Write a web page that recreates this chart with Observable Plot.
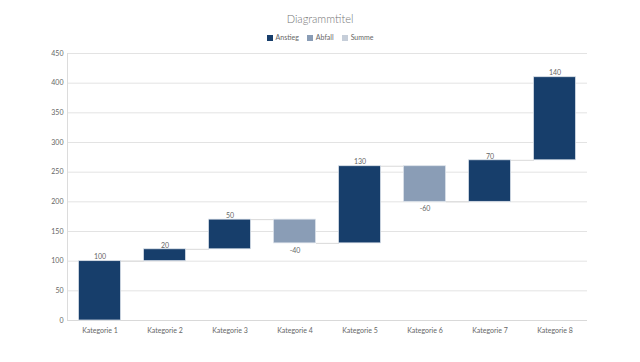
<!DOCTYPE html>
<html><head><meta charset="utf-8">
<script src="https://cdn.jsdelivr.net/npm/d3@7"></script>
<script src="https://cdn.jsdelivr.net/npm/@observablehq/plot@0.6"></script>
<style>
body{margin:0;background:#fff;font-family:Lato,"Open Sans",sans-serif;}
#wrap{width:640px;height:362px;position:relative;}
#title{position:absolute;top:10px;left:0;width:640px;text-align:center;font-size:11px;font-weight:300;color:#757575;line-height:18px;}
#legend{position:absolute;top:30px;left:0;width:640px;display:flex;justify-content:center;gap:8px;font-size:7px;color:#666;line-height:14px;}
#legend span.sw{display:inline-block;width:6px;height:6px;margin-right:3px;vertical-align:-0.5px;}
#chart{position:absolute;top:44px;left:0;}
</style></head>
<body><div id="wrap"><div id="title">Diagrammtitel</div><div id="legend"></div><div id="chart"></div></div>
<script>
const categories = ["Kategorie 1","Kategorie 2","Kategorie 3","Kategorie 4","Kategorie 5","Kategorie 6","Kategorie 7","Kategorie 8"];
const changes = [100, 20, 50, -40, 130, -60, 70, 140];
const seriesNames = ["Anstieg","Abfall","Summe"];
const seriesColors = ["#173e6b","#8a9db6","#c6ced9"];
const yTicks = [0,50,100,150,200,250,300,350,400,450];

const half = 0.323;
let run = 0;
const rows = categories.map((c, i) => {
  const start = run; run += changes[i];
  return {idx: i + 1, cat: c, start, end: run, change: changes[i], type: changes[i] >= 0 ? "Anstieg" : "Abfall"};
});
const links = rows.slice(0, -1).map((r, i) => ({x1: r.idx + half, x2: rows[i + 1].idx - half, y: r.end}));

const leg = document.getElementById("legend");
seriesNames.forEach((n, i) => {
  const d = document.createElement("div");
  d.innerHTML = `<span class="sw" style="background:${seriesColors[i]}"></span>${n}`;
  leg.appendChild(d);
});

const chart = Plot.plot({
  width: 640, height: 318,
  marginLeft: 67, marginRight: 53, marginTop: 9, marginBottom: 42,
  style: {fontFamily: 'Lato,"Open Sans",sans-serif', fontSize: "7px", color: "#666"},
  x: {type: "linear", domain: [0.5, categories.length + 0.5], axis: null},
  y: {domain: [0, 450], axis: null},
  color: {domain: seriesNames, range: seriesColors},
  marks: [
    Plot.ruleY(yTicks, {stroke: "#e3e3e3", strokeWidth: 1}),
    Plot.ruleX([0.5], {stroke: "#dcdcdc"}),
    Plot.ruleY([0], {stroke: "#d9d9d9"}),
    Plot.axisY({ticks: yTicks, tickSize: 0, tickPadding: 4, fill: "#666", fontSize: 7}),
    Plot.text(rows, {x: "idx", y: 0, text: "cat", dy: 10, fill: "#666", fontSize: 7}),
    Plot.link(links, {x1: "x1", x2: "x2", y1: "y", y2: "y", stroke: "#d9d9d9", strokeWidth: 1}),
    Plot.rectY(rows, {x1: d => d.idx - half, x2: d => d.idx + half, y1: "start", y2: "end", fill: "type", stroke: "#dbe2ea", strokeWidth: 0.75}),
    Plot.text(rows.filter(d => d.change >= 0), {x: "idx", y: "end", text: d => String(d.change), dy: -4, fill: "#666", fontSize: 7}),
    Plot.text(rows.filter(d => d.change < 0), {x: "idx", y: "end", text: d => String(d.change), dy: 7, fill: "#666", fontSize: 7})
  ]
});
document.getElementById("chart").appendChild(chart);
</script></body></html>
